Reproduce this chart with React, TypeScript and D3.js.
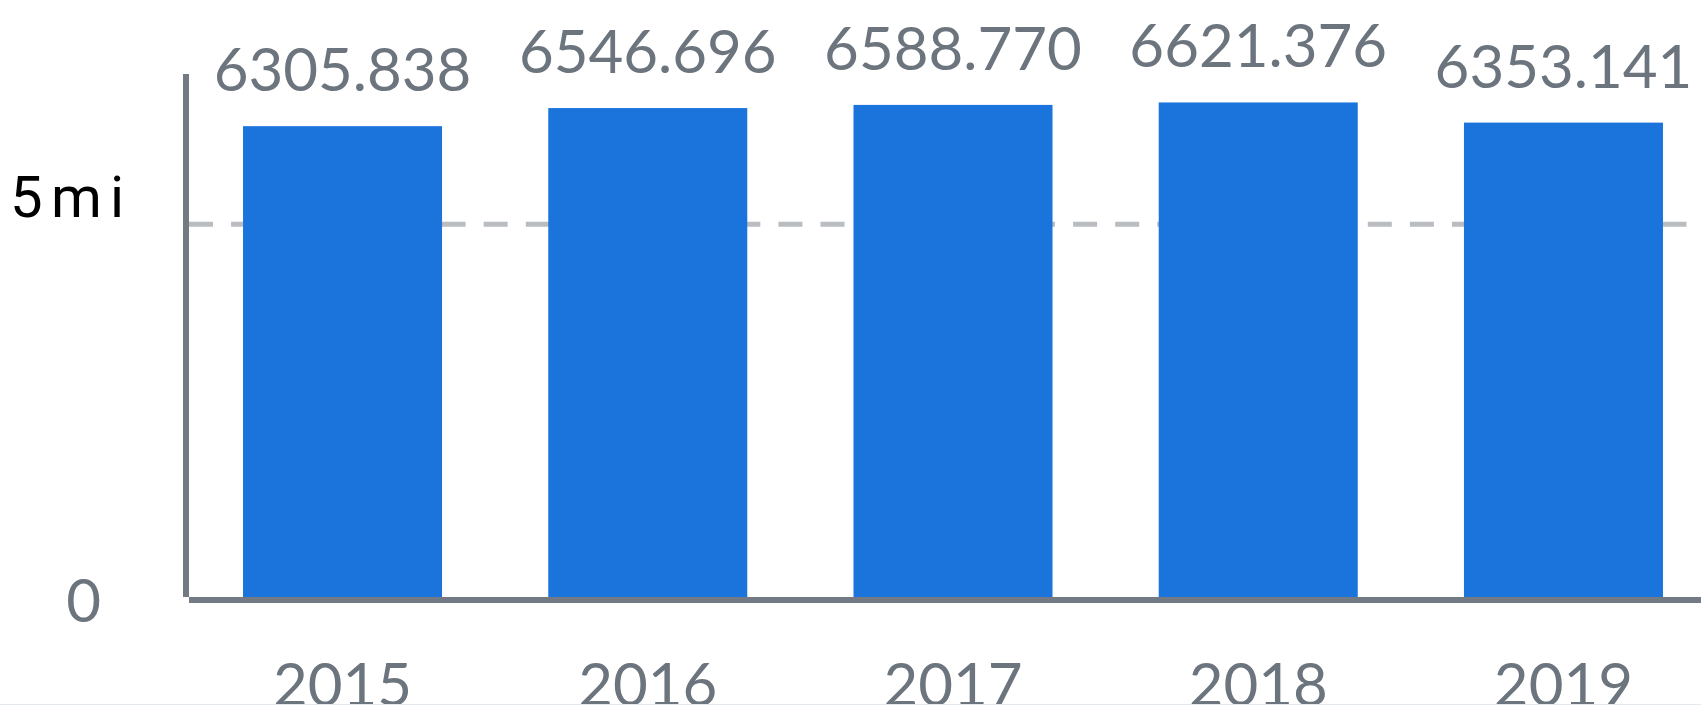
import React from "react";
import * as d3 from "d3";

const years = ["2015", "2016", "2017", "2018", "2019"];
const values = [6305.838, 6546.696, 6588.77, 6621.376, 6353.141];
const gridValue = 5000;
const yMax = 7000;

const W = 1701;
const H = 705;
const baseY = 600;
const topY = 74;
const axisX = 186;

const textGrey = "#6c747d";
const axisGrey = "#737a83";
const barBlue = "#1b74dc";

export default function App() {
  const x = d3
    .scaleBand<string>()
    .domain(years)
    .range([189, 1717])
    .paddingInner(0.348)
    .paddingOuter(0.177);

  const y = d3.scaleLinear().domain([0, yMax]).range([baseY, topY]);
  const fmt = d3.format(".3f");
  const lato = "Lato, 'Open Sans', sans-serif";

  return (
    <svg
      width={W}
      height={H}
      viewBox={`0 0 ${W} ${H}`}
      style={{ position: "fixed", left: 0, top: 0, background: "#fff" }}
    >
      <rect x={0} y={0} width={W} height={H} fill="#fff" />

      {/* dashed gridline */}
      <line
        x1={189}
        x2={1687}
        y1={y(gridValue)}
        y2={y(gridValue)}
        stroke="#b9bcc1"
        strokeWidth={5}
        strokeDasharray="24 18.1"
      />

      {/* bars */}
      {years.map((yr, i) => (
        <rect
          key={yr}
          x={x(yr)}
          y={y(values[i])}
          width={x.bandwidth()}
          height={baseY - y(values[i])}
          fill={barBlue}
        />
      ))}

      {/* value labels */}
      {years.map((yr, i) => (
        <text
          key={"v" + yr}
          x={(x(yr) ?? 0) + x.bandwidth() / 2}
          y={y(values[i]) - 35}
          textAnchor="middle"
          fontFamily={lato}
          fontSize={60}
          fill={textGrey}
        >
          {fmt(values[i])}
        </text>
      ))}

      {/* axes */}
      <line x1={axisX} x2={axisX} y1={topY} y2={baseY - 3} stroke={axisGrey} strokeWidth={6} />
      <line x1={189} x2={W} y1={baseY} y2={baseY} stroke={axisGrey} strokeWidth={6} />

      {/* y tick labels */}
      <text
        x={101}
        y={y(0) + 22}
        textAnchor="end"
        fontFamily={lato}
        fontSize={60}
        fill={textGrey}
      >
        0
      </text>
      <text y={217} fontFamily="Roboto, 'Noto Sans', sans-serif" fontSize={58} fill="#000">
        <tspan x={10}>5</tspan>
        <tspan x={51}>m</tspan>
        <tspan x={110}>i</tspan>
      </text>

      {/* x tick labels */}
      {years.map((yr) => (
        <text
          key={"x" + yr}
          x={(x(yr) ?? 0) + x.bandwidth() / 2}
          y={706}
          textAnchor="middle"
          fontFamily={lato}
          fontSize={60}
          fill={textGrey}
        >
          {yr}
        </text>
      ))}

      <line x1={0} x2={W} y1={704.5} y2={704.5} stroke="#e3e8ef" strokeWidth={1} />
    </svg>
  );
}
